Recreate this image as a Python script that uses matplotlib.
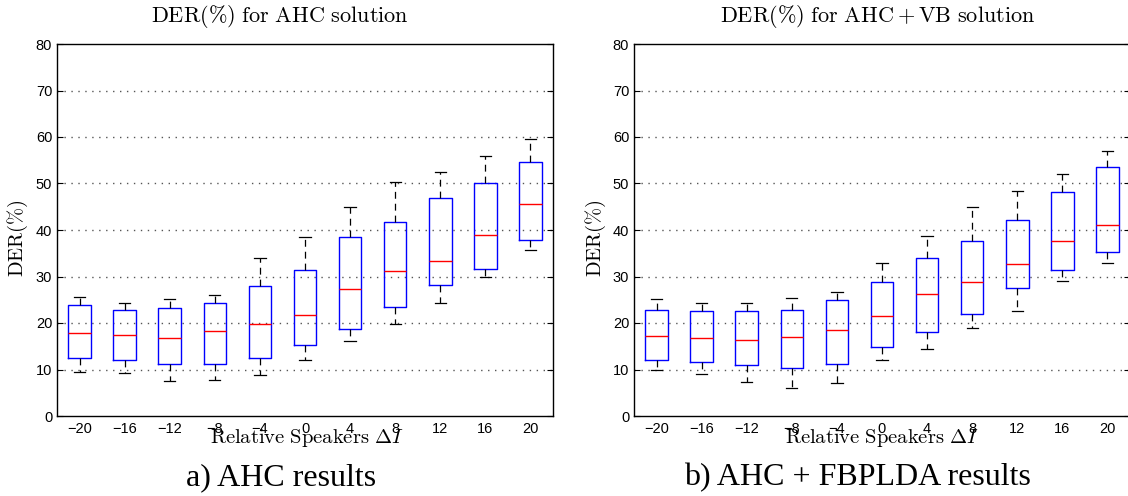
import matplotlib
matplotlib.use("Agg")
import matplotlib.pyplot as plt

plt.rcParams["mathtext.fontset"] = "cm"
plt.rcParams["font.family"] = ["Liberation Sans", "DejaVu Sans"]

# Relative number of speakers (x positions of the boxes)
delta_speakers = [-20, -16, -12, -8, -4, 0, 4, 8, 12, 16, 20]
tick_labels = ["\u221220", "\u221216", "\u221212", "\u22128", "\u22124",
               "0", "4", "8", "12", "16", "20"]

# DER (%) box statistics, AHC solution
ahc_low = [9.4, 9.2, 7.6, 7.7, 8.9, 12.0, 16.2, 19.7, 24.2, 30.0, 35.6]
ahc_q1 = [12.4, 12.0, 11.2, 11.1, 12.5, 15.2, 18.8, 23.5, 28.1, 31.7, 37.8]
ahc_med = [17.9, 17.5, 16.7, 18.2, 19.7, 21.8, 27.4, 31.1, 33.4, 38.9, 45.6]
ahc_q3 = [23.8, 22.9, 23.2, 24.4, 27.9, 31.4, 38.5, 41.7, 46.8, 50.0, 54.6]
ahc_high = [25.5, 24.3, 25.1, 26.1, 33.9, 38.5, 44.9, 50.3, 52.5, 55.9, 59.6]

# DER (%) box statistics, AHC + VB solution
vb_low = [9.8, 9.1, 7.4, 6.0, 7.2, 12.0, 14.5, 18.9, 22.6, 29.1, 32.9]
vb_q1 = [12.1, 11.7, 10.9, 10.3, 11.2, 14.8, 18.0, 22.0, 27.5, 31.3, 35.3]
vb_med = [17.2, 16.7, 16.3, 17.0, 18.5, 21.5, 26.3, 28.8, 32.7, 37.7, 41.1]
vb_q3 = [22.7, 22.5, 22.5, 22.9, 25.0, 28.8, 33.9, 37.6, 42.1, 48.1, 53.6]
vb_high = [25.1, 24.3, 24.4, 25.3, 26.6, 32.8, 38.8, 45.0, 48.4, 52.1, 57.0]

y_ticks = [0, 10, 20, 30, 40, 50, 60, 70, 80]

W, H = 1128, 496
fig = plt.figure(figsize=(W / 100, H / 100), dpi=100)


def px_axes(left, top, right, bottom):
    return fig.add_axes([left / W, 1 - bottom / H, (right - left) / W, (bottom - top) / H])


def draw_panel(ax, low, q1, med, q3, high):
    stats = [dict(whislo=a, q1=b, med=c, q3=d, whishi=e, fliers=[])
             for a, b, c, d, e in zip(low, q1, med, q3, high)]
    ax.bxp(stats, positions=delta_speakers, widths=2.0, capwidths=1.0,
           showfliers=False, manage_ticks=False,
           boxprops=dict(color="#0000ff", linewidth=1.0),
           medianprops=dict(color="#ff0000", linewidth=1.0),
           whiskerprops=dict(color="black", linewidth=0.9, linestyle=(0, (5.5, 4.0))),
           capprops=dict(color="black", linewidth=0.9))
    ax.set_xlim(-22, 22)
    ax.set_ylim(0, 80)
    ax.set_yticks(y_ticks)
    ax.set_xticks(delta_speakers)
    ax.set_xticklabels(tick_labels)
    for y in y_ticks[1:-1]:
        ax.axhline(y, color="#555555", linewidth=1.0, linestyle=(0, (1.0, 4.0)), zorder=0)
    ax.tick_params(axis="y", direction="in", length=4, width=0.8, right=True,
                   labelsize=10.5, pad=3.5)
    ax.tick_params(axis="x", length=0, labelsize=10.5, pad=4)
    for s in ax.spines.values():
        s.set_linewidth(1.0)
        s.set_color("black")


ax1 = px_axes(57, 44, 553, 416)
draw_panel(ax1, ahc_low, ahc_q1, ahc_med, ahc_q3, ahc_high)

ax2 = px_axes(634, 44, 1130, 416)
draw_panel(ax2, vb_low, vb_q1, vb_med, vb_q3, vb_high)


def ftext(x, y, s, **kw):
    fig.text(x / W, 1 - y / H, s, ha="center", va="center", **kw)


ftext(280, 17, r"$\mathrm{DER(\%)\ for\ AHC\ solution}$", fontsize=16)
ftext(878, 17, r"$\mathrm{DER(\%)\ for\ AHC + VB\ solution}$", fontsize=16)

ftext(307, 438, r"$\mathrm{Relative\ Speakers}\ \Delta I$", fontsize=14.8)
ftext(882, 438, r"$\mathrm{Relative\ Speakers}\ \Delta I$", fontsize=14.8)

ftext(18, 238, r"$\mathrm{DER(\%)}$", fontsize=14.8, rotation=90)
ftext(596, 238, r"$\mathrm{DER(\%)}$", fontsize=14.8, rotation=90)

ftext(281, 478, "a) AHC results", fontsize=23, family="Liberation Serif")
ftext(857, 478, "b) AHC + FBPLDA results", fontsize=23, family="Liberation Serif")

fig.savefig("out.png", dpi=100)
